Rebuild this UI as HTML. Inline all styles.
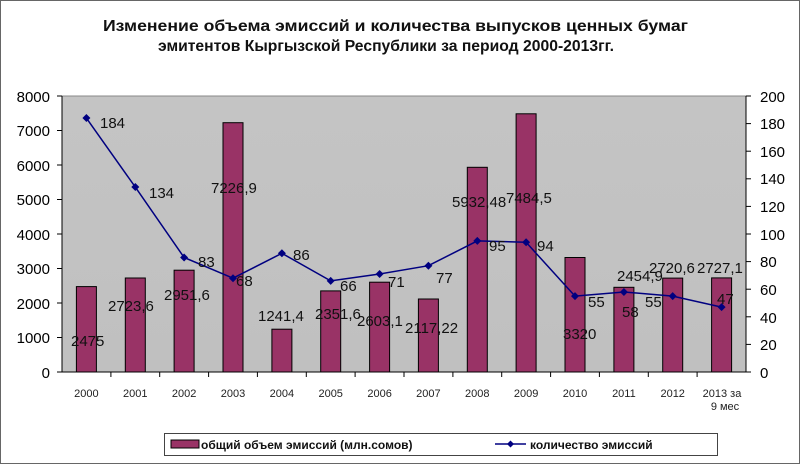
<!DOCTYPE html>
<html><head><meta charset="utf-8"><style>
html,body{margin:0;padding:0;background:#fff;}
svg{display:block;font-family:"Liberation Sans",sans-serif;}
</style></head><body>
<svg width="800" height="464" viewBox="0 0 800 464" xmlns="http://www.w3.org/2000/svg">
<defs><linearGradient id="bg" x1="0" y1="0" x2="0" y2="1"><stop offset="0" stop-color="#c4c4c4"/><stop offset="1" stop-color="#c0c0c0"/></linearGradient></defs>
<rect x="0.5" y="0.5" width="799" height="463" fill="#fff" stroke="#666"/>
<g font-weight="bold" font-size="16" fill="#111">
<text x="103" y="31" textLength="585" lengthAdjust="spacingAndGlyphs">Изменение объема эмиссий и количества выпусков ценных бумаг</text>
<text x="158" y="51" textLength="456" lengthAdjust="spacingAndGlyphs">эмитентов Кыргызской Республики за период 2000-2013гг.</text>
</g>
<rect x="62" y="96" width="684" height="276" fill="url(#bg)" stroke="#888"/>
<g fill="#993366" stroke="#000" stroke-width="1">
<rect x="76.4" y="286.6" width="20" height="85.4"/>
<rect x="125.3" y="278.0" width="20" height="94.0"/>
<rect x="174.1" y="270.2" width="20" height="101.8"/>
<rect x="223.0" y="122.7" width="20" height="249.3"/>
<rect x="271.9" y="329.2" width="20" height="42.8"/>
<rect x="320.7" y="290.9" width="20" height="81.1"/>
<rect x="369.6" y="282.2" width="20" height="89.8"/>
<rect x="418.4" y="299.0" width="20" height="73.0"/>
<rect x="467.3" y="167.3" width="20" height="204.7"/>
<rect x="516.1" y="113.8" width="20" height="258.2"/>
<rect x="565.0" y="257.5" width="20" height="114.5"/>
<rect x="613.9" y="287.3" width="20" height="84.7"/>
<rect x="662.7" y="278.1" width="20" height="93.9"/>
<rect x="711.6" y="277.9" width="20" height="94.1"/>
</g>
<g stroke="#000" stroke-width="1">
<line x1="62" y1="96" x2="62" y2="372"/>
<line x1="746" y1="96" x2="746" y2="372"/>
<line x1="62" y1="372" x2="746" y2="372"/>
<line x1="57" y1="96" x2="62" y2="96"/><line x1="57" y1="130.5" x2="62" y2="130.5"/><line x1="57" y1="165" x2="62" y2="165"/><line x1="57" y1="199.5" x2="62" y2="199.5"/><line x1="57" y1="234" x2="62" y2="234"/><line x1="57" y1="268.5" x2="62" y2="268.5"/><line x1="57" y1="303" x2="62" y2="303"/><line x1="57" y1="337.5" x2="62" y2="337.5"/><line x1="57" y1="372" x2="62" y2="372"/>
<line x1="746" y1="96" x2="751" y2="96"/><line x1="746" y1="123.6" x2="751" y2="123.6"/><line x1="746" y1="151.2" x2="751" y2="151.2"/><line x1="746" y1="178.8" x2="751" y2="178.8"/><line x1="746" y1="206.4" x2="751" y2="206.4"/><line x1="746" y1="234" x2="751" y2="234"/><line x1="746" y1="261.6" x2="751" y2="261.6"/><line x1="746" y1="289.2" x2="751" y2="289.2"/><line x1="746" y1="316.8" x2="751" y2="316.8"/><line x1="746" y1="344.4" x2="751" y2="344.4"/><line x1="746" y1="372" x2="751" y2="372"/>
<line x1="110.9" y1="372" x2="110.9" y2="377"/><line x1="159.7" y1="372" x2="159.7" y2="377"/><line x1="208.6" y1="372" x2="208.6" y2="377"/><line x1="257.4" y1="372" x2="257.4" y2="377"/><line x1="306.3" y1="372" x2="306.3" y2="377"/><line x1="355.1" y1="372" x2="355.1" y2="377"/><line x1="404" y1="372" x2="404" y2="377"/><line x1="452.9" y1="372" x2="452.9" y2="377"/><line x1="501.7" y1="372" x2="501.7" y2="377"/><line x1="550.6" y1="372" x2="550.6" y2="377"/><line x1="599.4" y1="372" x2="599.4" y2="377"/><line x1="648.3" y1="372" x2="648.3" y2="377"/><line x1="697.1" y1="372" x2="697.1" y2="377"/>
</g>
<g font-size="15" fill="#000" text-anchor="end">
<text x="50" y="102">8000</text><text x="50" y="136">7000</text><text x="50" y="171">6000</text><text x="50" y="205">5000</text><text x="50" y="240">4000</text><text x="50" y="274">3000</text><text x="50" y="309">2000</text><text x="50" y="343">1000</text><text x="50" y="378">0</text>
</g>
<g font-size="15" fill="#000">
<text x="760" y="102">200</text><text x="760" y="129">180</text><text x="760" y="157">160</text><text x="760" y="184">140</text><text x="760" y="212">120</text><text x="760" y="240">100</text><text x="760" y="267">80</text><text x="760" y="295">60</text><text x="760" y="323">40</text><text x="760" y="350">20</text><text x="760" y="378">0</text>
</g>
<g font-size="11" fill="#222" text-anchor="middle">
<text x="86.4" y="397">2000</text><text x="135.3" y="397">2001</text><text x="184.1" y="397">2002</text><text x="233" y="397">2003</text><text x="281.9" y="397">2004</text><text x="330.7" y="397">2005</text><text x="379.6" y="397">2006</text><text x="428.4" y="397">2007</text><text x="477.3" y="397">2008</text><text x="526.1" y="397">2009</text><text x="575" y="397">2010</text><text x="623.9" y="397">2011</text><text x="672.7" y="397">2012</text><text x="722" y="397">2013 за</text><text x="725" y="410">9 мес</text>
</g>
<polyline fill="none" stroke="#000080" stroke-width="1.5" points="86.4,118.1 135.3,187.1 184.1,257.5 233,278.2 281.9,253.3 330.7,280.9 379.6,274.0 428.4,265.7 477.3,240.9 526.1,242.3 575,296.1 623.9,292.0 672.7,296.1 721.6,307.1"/>
<g fill="#000080">
<path d="M86.4,114 l4,4 -4,4 -4,-4z"/><path d="M135.3,183 l4,4 -4,4 -4,-4z"/><path d="M184.1,253.5 l4,4 -4,4 -4,-4z"/><path d="M233,274.2 l4,4 -4,4 -4,-4z"/><path d="M281.9,249.3 l4,4 -4,4 -4,-4z"/><path d="M330.7,276.9 l4,4 -4,4 -4,-4z"/><path d="M379.6,270 l4,4 -4,4 -4,-4z"/><path d="M428.4,261.7 l4,4 -4,4 -4,-4z"/><path d="M477.3,236.9 l4,4 -4,4 -4,-4z"/><path d="M526.1,238.3 l4,4 -4,4 -4,-4z"/><path d="M575,292.1 l4,4 -4,4 -4,-4z"/><path d="M623.9,288 l4,4 -4,4 -4,-4z"/><path d="M672.7,292.1 l4,4 -4,4 -4,-4z"/><path d="M721.6,303.1 l4,4 -4,4 -4,-4z"/>
</g>
<g font-size="15" fill="#111">
<text x="71" y="346">2475</text><text x="108" y="311">2723,6</text><text x="164" y="300">2951,6</text><text x="211" y="193">7226,9</text><text x="258" y="321">1241,4</text><text x="315" y="319">2351,6</text><text x="357" y="326">2603,1</text><text x="405" y="333">2117,22</text><text x="452" y="207">5932,48</text><text x="506" y="203">7484,5</text><text x="563" y="339">3320</text><text x="617" y="281">2454,9</text><text x="649" y="273">2720,6</text><text x="697" y="273">2727,1</text>
<text x="100" y="128">184</text><text x="149" y="198">134</text><text x="198" y="267">83</text><text x="236" y="286">68</text><text x="293" y="260">86</text><text x="340" y="291">66</text><text x="388" y="287">71</text><text x="436" y="283">77</text><text x="489" y="251">95</text><text x="537" y="251">94</text><text x="588" y="307">55</text><text x="622" y="317">58</text><text x="645" y="307">55</text><text x="717" y="304">47</text>
</g>
<rect x="164.5" y="433.5" width="553" height="22" fill="#fff" stroke="#444"/>
<rect x="171" y="440" width="28" height="8" fill="#993366" stroke="#000"/>
<text x="201" y="449" font-size="12" font-weight="bold" fill="#111">общий объем эмиссий (млн.сомов)</text>
<line x1="495" y1="444" x2="526" y2="444" stroke="#000080" stroke-width="1.5"/>
<path d="M510.5,440.5 l3.5,3.5 -3.5,3.5 -3.5,-3.5z" fill="#000080"/>
<text x="530" y="449" font-size="12" font-weight="bold" fill="#111">количество эмиссий</text>
</svg>
</body></html>
